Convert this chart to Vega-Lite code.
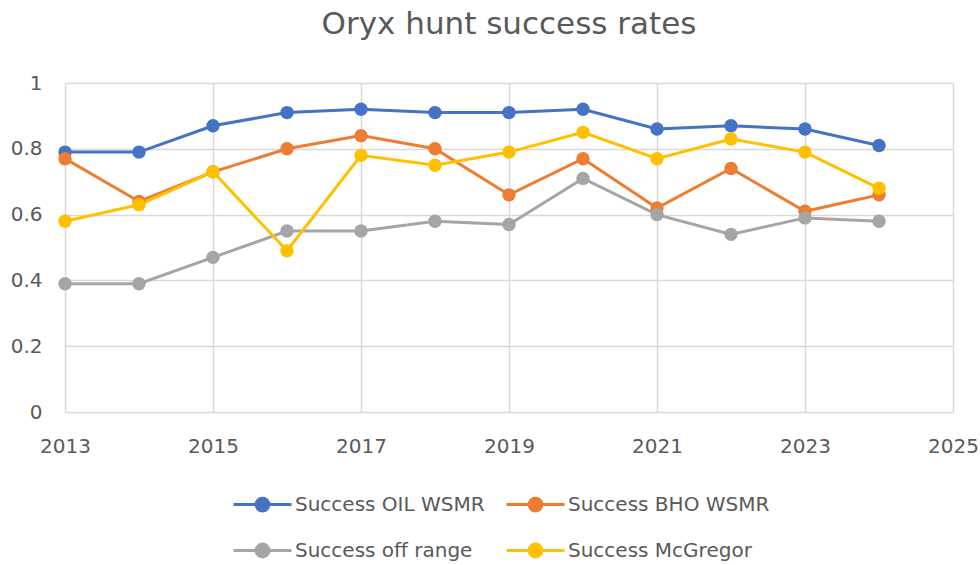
{
  "$schema": "https://vega.github.io/schema/vega-lite/v6.json",
  "autosize": {"type": "none"},
  "width": 888,
  "height": 329,
  "padding": {"left": 65, "top": 83, "right": 27, "bottom": 153},
  "background": "white",
  "title": {
    "text": "Oryx hunt success rates",
    "fontSize": 31,
    "font": "DejaVu Sans",
    "fontWeight": "normal",
    "color": "#595959",
    "anchor": "middle",
    "offset": 32
  },
  "config": {
    "view": {"stroke": null},
    "font": "DejaVu Sans",
    "axis": {
      "labelFont": "DejaVu Sans",
      "labelFontSize": 20,
      "labelColor": "#595959",
      "gridColor": "#D9D9D9",
      "gridWidth": 1.5,
      "domain": false,
      "ticks": false,
      "title": null
    },
    "legend": {
      "labelFont": "DejaVu Sans",
      "labelFontSize": 20,
      "labelColor": "#595959",
      "padding": 0
    }
  },
  "data": {
    "values": [
      {"year": 2013, "series": "Success OIL WSMR", "rate": 0.79},
      {"year": 2014, "series": "Success OIL WSMR", "rate": 0.79},
      {"year": 2015, "series": "Success OIL WSMR", "rate": 0.87},
      {"year": 2016, "series": "Success OIL WSMR", "rate": 0.91},
      {"year": 2017, "series": "Success OIL WSMR", "rate": 0.92},
      {"year": 2018, "series": "Success OIL WSMR", "rate": 0.91},
      {"year": 2019, "series": "Success OIL WSMR", "rate": 0.91},
      {"year": 2020, "series": "Success OIL WSMR", "rate": 0.92},
      {"year": 2021, "series": "Success OIL WSMR", "rate": 0.86},
      {"year": 2022, "series": "Success OIL WSMR", "rate": 0.87},
      {"year": 2023, "series": "Success OIL WSMR", "rate": 0.86},
      {"year": 2024, "series": "Success OIL WSMR", "rate": 0.81},
      {"year": 2013, "series": "Success BHO WSMR", "rate": 0.77},
      {"year": 2014, "series": "Success BHO WSMR", "rate": 0.64},
      {"year": 2015, "series": "Success BHO WSMR", "rate": 0.73},
      {"year": 2016, "series": "Success BHO WSMR", "rate": 0.80},
      {"year": 2017, "series": "Success BHO WSMR", "rate": 0.84},
      {"year": 2018, "series": "Success BHO WSMR", "rate": 0.80},
      {"year": 2019, "series": "Success BHO WSMR", "rate": 0.66},
      {"year": 2020, "series": "Success BHO WSMR", "rate": 0.77},
      {"year": 2021, "series": "Success BHO WSMR", "rate": 0.62},
      {"year": 2022, "series": "Success BHO WSMR", "rate": 0.74},
      {"year": 2023, "series": "Success BHO WSMR", "rate": 0.61},
      {"year": 2024, "series": "Success BHO WSMR", "rate": 0.66},
      {"year": 2013, "series": "Success off range", "rate": 0.39},
      {"year": 2014, "series": "Success off range", "rate": 0.39},
      {"year": 2015, "series": "Success off range", "rate": 0.47},
      {"year": 2016, "series": "Success off range", "rate": 0.55},
      {"year": 2017, "series": "Success off range", "rate": 0.55},
      {"year": 2018, "series": "Success off range", "rate": 0.58},
      {"year": 2019, "series": "Success off range", "rate": 0.57},
      {"year": 2020, "series": "Success off range", "rate": 0.71},
      {"year": 2021, "series": "Success off range", "rate": 0.60},
      {"year": 2022, "series": "Success off range", "rate": 0.54},
      {"year": 2023, "series": "Success off range", "rate": 0.59},
      {"year": 2024, "series": "Success off range", "rate": 0.58},
      {"year": 2013, "series": "Success McGregor", "rate": 0.58},
      {"year": 2014, "series": "Success McGregor", "rate": 0.63},
      {"year": 2015, "series": "Success McGregor", "rate": 0.73},
      {"year": 2016, "series": "Success McGregor", "rate": 0.49},
      {"year": 2017, "series": "Success McGregor", "rate": 0.78},
      {"year": 2018, "series": "Success McGregor", "rate": 0.75},
      {"year": 2019, "series": "Success McGregor", "rate": 0.79},
      {"year": 2020, "series": "Success McGregor", "rate": 0.85},
      {"year": 2021, "series": "Success McGregor", "rate": 0.77},
      {"year": 2022, "series": "Success McGregor", "rate": 0.83},
      {"year": 2023, "series": "Success McGregor", "rate": 0.79},
      {"year": 2024, "series": "Success McGregor", "rate": 0.68}
    ]
  },
  "mark": {"type": "line", "strokeWidth": 3, "point": {"filled": true, "size": 180, "opacity": 1}},
  "encoding": {
    "x": {
      "field": "year",
      "type": "quantitative",
      "scale": {"domain": [2013, 2025], "nice": false, "zero": false},
      "axis": {"values": [2013, 2015, 2017, 2019, 2021, 2023, 2025], "format": "d", "labelPadding": 24, "labelFlush": false}
    },
    "y": {
      "field": "rate",
      "type": "quantitative",
      "scale": {"domain": [0, 1], "nice": false},
      "axis": {"values": [0, 0.2, 0.4, 0.6, 0.8, 1], "format": "~g", "labelPadding": 23}
    },
    "color": {
      "field": "series",
      "type": "nominal",
      "sort": ["Success OIL WSMR", "Success BHO WSMR", "Success off range", "Success McGregor"],
      "scale": {
        "domain": ["Success OIL WSMR", "Success BHO WSMR", "Success off range", "Success McGregor"],
        "range": ["#4472C4", "#ED7D31", "#A5A5A5", "#FFC000"]
      },
      "legend": {
        "title": null,
        "orient": "none",
        "legendX": 184,
        "legendY": 408,
        "columns": 2,
        "direction": "horizontal",
        "columnPadding": 15,
        "rowPadding": 20,
        "labelOffset": 19,
        "labelLimit": 400,
        "symbolType": "M-2.5,0H2.5M0.55,0A0.55,0.55 0 1,1 -0.55,0A0.55,0.55 0 1,1 0.55,0Z",
        "symbolSize": 538,
        "symbolStrokeWidth": 3,
        "encode": {
          "symbols": {
            "update": {
              "fill": {"scale": "color", "field": "value"},
              "stroke": {"scale": "color", "field": "value"},
              "opacity": {"value": 1}
            }
          }
        }
      }
    },
    "order": {"field": "year", "type": "quantitative"}
  }
}
